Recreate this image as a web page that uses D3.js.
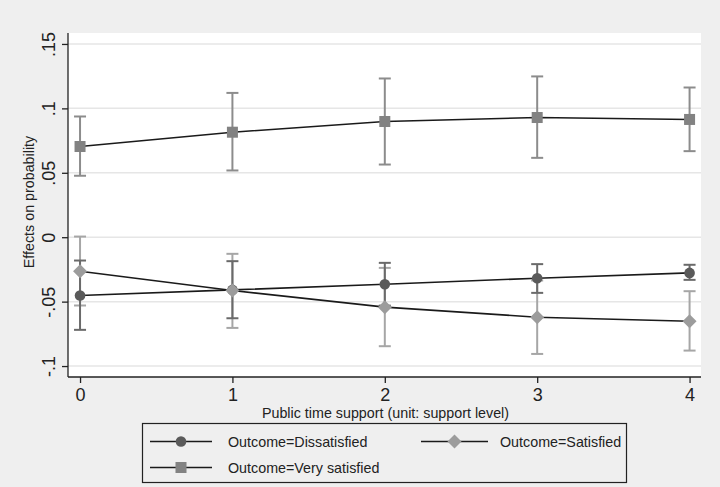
<!DOCTYPE html>
<html><head><meta charset="utf-8">
<script src="https://cdnjs.cloudflare.com/ajax/libs/d3/7.8.5/d3.min.js"></script>
<style>html,body{margin:0;padding:0;background:#efefef;}svg{display:block;}</style>
</head><body>
<script>
const xs = [0, 1, 2, 3, 4];
const yTicks = [-0.1, -0.05, 0, 0.05, 0.1, 0.15];
const yTickLabels = ["-.1", "-.05", "0", ".05", ".1", ".15"];
const seriesNames = ["Outcome=Dissatisfied", "Outcome=Satisfied", "Outcome=Very satisfied"];
const dissatisfied = [-0.0453, -0.0409, -0.0365, -0.0318, -0.0277];
const dissLo = [-0.0719, -0.0629, -0.0531, -0.0432, -0.0331];
const dissHi = [-0.0181, -0.0186, -0.0199, -0.0209, -0.0214];
const satisfied = [-0.0264, -0.0414, -0.0543, -0.0621, -0.0652];
const satLo = [-0.0530, -0.0704, -0.0846, -0.0906, -0.0880];
const satHi = [0.0005, -0.0129, -0.0238, -0.0336, -0.0419];
const verySat = [0.0704, 0.0815, 0.0898, 0.0929, 0.0914];
const vsLo = [0.0477, 0.0518, 0.0564, 0.0616, 0.0668];
const vsHi = [0.0937, 0.1120, 0.1232, 0.1248, 0.1162];

const W = 720, H = 487;
const L = 68, R = 701, T = 33, B = 377;
const svg = d3.select("body").append("svg").attr("width", W).attr("height", H);
svg.append("rect").attr("width", W).attr("height", H).attr("fill", "#efefef");
svg.append("rect").attr("x", L).attr("y", T).attr("width", R - L).attr("height", B - T).attr("fill", "#ffffff");

const x = d3.scaleLinear().domain([-0.079, 4.075]).range([L, R]);
const y = d3.scaleLinear().domain([-0.1085, 0.1585]).range([B, T]);
const font = "Liberation Sans, Arial, sans-serif";

// gridlines
svg.append("g").selectAll("line").data(yTicks).join("line")
  .attr("x1", L).attr("x2", R).attr("y1", d => y(d)).attr("y2", d => y(d))
  .attr("stroke", "#e6e6e6").attr("stroke-width", 1.5);

// y axis
const yAxis = d3.axisLeft(y).tickValues(yTicks).tickFormat((d, i) => yTickLabels[i]).tickSizeInner(6).tickSizeOuter(0).tickPadding(7);
const gy = svg.append("g").attr("transform", `translate(${L},0)`).call(yAxis);
gy.select(".domain").attr("d", `M0,${T}V${B}`).attr("stroke", "#222").attr("stroke-width", 1.3);
gy.selectAll(".tick line").attr("stroke", "#222").attr("stroke-width", 1.3);
gy.selectAll(".tick text").attr("font-family", font).attr("font-size", 18).attr("fill", "#222")
  .attr("transform", "rotate(-90)").attr("x", 0).attr("y", -13).attr("text-anchor", "middle").attr("dy", 0);

// x axis
const xAxis = d3.axisBottom(x).tickValues(xs).tickFormat(d3.format("d")).tickSizeInner(6).tickSizeOuter(0).tickPadding(5);
const gx = svg.append("g").attr("transform", `translate(0,${B})`).call(xAxis);
gx.select(".domain").attr("d", `M${L},0H${R}`).attr("stroke", "#222").attr("stroke-width", 1.3);
gx.selectAll(".tick line").attr("stroke", "#222").attr("stroke-width", 1.3);
gx.selectAll(".tick text").attr("font-family", font).attr("font-size", 18).attr("fill", "#222");

// axis titles
svg.append("text").attr("x", (L + R) / 2 + 1).attr("y", 418).attr("text-anchor", "middle")
  .attr("font-family", font).attr("font-size", 14.3).attr("fill", "#222").text("Public time support (unit: support level)");
svg.append("text").attr("transform", `translate(34,${(T + B) / 2 - 3}) rotate(-90)`).attr("text-anchor", "middle")
  .attr("font-family", font).attr("font-size", 14.3).attr("fill", "#222").text("Effects on probability");

const series = [
  {name: seriesNames[0], v: dissatisfied, lo: dissLo, hi: dissHi, ci: "#6a6a6a", fill: "#5a5a5a", shape: "circle"},
  {name: seriesNames[1], v: satisfied, lo: satLo, hi: satHi, ci: "#a6a6a6", fill: "#9c9c9c", shape: "diamond"},
  {name: seriesNames[2], v: verySat, lo: vsLo, hi: vsHi, ci: "#8c8c8c", fill: "#828282", shape: "square"}
];

function marker(g, shape, fill, cx, cy) {
  if (shape === "circle") g.append("circle").attr("cx", cx).attr("cy", cy).attr("r", 5.3).attr("fill", fill);
  else if (shape === "diamond") g.append("path").attr("d", `M${cx},${cy - 7}L${cx + 7},${cy}L${cx},${cy + 7}L${cx - 7},${cy}Z`).attr("fill", fill);
  else g.append("rect").attr("x", cx - 5.5).attr("y", cy - 5.5).attr("width", 11).attr("height", 11).attr("fill", fill);
}

// CIs
series.slice().reverse().forEach(s => {
  const g = svg.append("g").attr("stroke", s.ci).attr("stroke-width", 2);
  xs.forEach((xv, i) => {
    const cx = x(xv);
    g.append("line").attr("x1", cx).attr("x2", cx).attr("y1", y(s.lo[i])).attr("y2", y(s.hi[i]));
    g.append("line").attr("x1", cx - 6).attr("x2", cx + 6).attr("y1", y(s.lo[i])).attr("y2", y(s.lo[i]));
    g.append("line").attr("x1", cx - 6).attr("x2", cx + 6).attr("y1", y(s.hi[i])).attr("y2", y(s.hi[i]));
  });
});
// lines
const line = d3.line().x((d, i) => x(xs[i])).y(d => y(d));
series.forEach(s => {
  svg.append("path").attr("d", line(s.v)).attr("fill", "none").attr("stroke", "#1a1a1a").attr("stroke-width", 1.6);
});
// markers
series.forEach(s => {
  const g = svg.append("g");
  xs.forEach((xv, i) => marker(g, s.shape, s.fill, x(xv), y(s.v[i])));
});

// legend
const lg = svg.append("g");
lg.append("rect").attr("x", 142.5).attr("y", 423.5).attr("width", 484).attr("height", 59).attr("fill", "#efefef").attr("stroke", "#222").attr("stroke-width", 1.2);
const legPos = [{x1: 150, x2: 212, ty: 441.5, tx: 228}, {x1: 421, x2: 488, ty: 441.5, tx: 500}, {x1: 150, x2: 212, ty: 467.5, tx: 228}];
series.forEach((s, i) => {
  const p = legPos[i];
  lg.append("line").attr("x1", p.x1).attr("x2", p.x2).attr("y1", p.ty).attr("y2", p.ty).attr("stroke", "#1a1a1a").attr("stroke-width", 1.6);
  marker(lg, s.shape, s.fill, (p.x1 + p.x2) / 2, p.ty);
  lg.append("text").attr("x", p.tx).attr("y", p.ty + 5).attr("font-family", font).attr("font-size", 14.3).attr("fill", "#222").text(s.name);
});
</script>
</body></html>
